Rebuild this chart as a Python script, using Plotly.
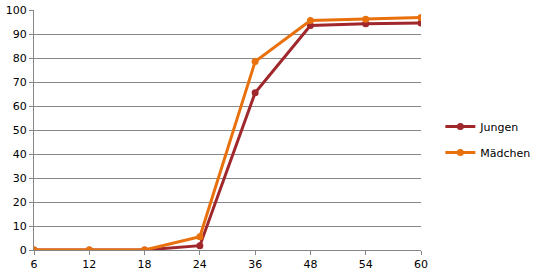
import plotly.graph_objects as go

months = ["6", "12", "18", "24", "36", "48", "54", "60"]
jungen = [0, 0, 0, 1.8, 65.5, 93.5, 94.3, 94.6]
maedchen = [0, 0, 0, 5.5, 78.5, 95.6, 96.1, 96.9]
y_ticks = [0, 10, 20, 30, 40, 50, 60, 70, 80, 90, 100]

fig = go.Figure()
fig.add_trace(go.Scatter(x=months, y=jungen, name="Jungen", mode="lines+markers",
                         legendgroup="j",
                         line=dict(color="#A0282C", width=3),
                         marker=dict(size=7, color="#A0282C")))
fig.add_trace(go.Scatter(x=months, y=maedchen, name="Mädchen", mode="lines+markers",
                         legendgroup="m",
                         line=dict(color="#E8710E", width=3),
                         marker=dict(size=7, color="#E8710E")))

fig.update_layout(
    width=542, height=280,
    margin=dict(l=34, r=121, t=10, b=30, autoexpand=False),
    paper_bgcolor="white", plot_bgcolor="white",
    font=dict(family="DejaVu Sans", size=11, color="black"),
    legend=dict(x=1.05, y=0.46, xanchor="left", yanchor="middle",
                font=dict(size=11), itemwidth=30, tracegroupgap=7,
                bgcolor="rgba(0,0,0,0)"),
    xaxis=dict(type="category", range=[0, 7], showgrid=False, showline=True,
               linecolor="#868686", linewidth=1, ticks="outside", ticklen=4,
               tickcolor="#868686", zeroline=False, tickfont=dict(size=11),
               automargin=False),
    yaxis=dict(range=[0, 100], tickvals=y_ticks, showgrid=True, gridcolor="#878787",
               gridwidth=1, showline=True, linecolor="#868686", ticks="outside",
               ticklen=4, tickcolor="#868686", zeroline=False, tickfont=dict(size=11),
               automargin=False),
)
fig.write_html("out.html")
